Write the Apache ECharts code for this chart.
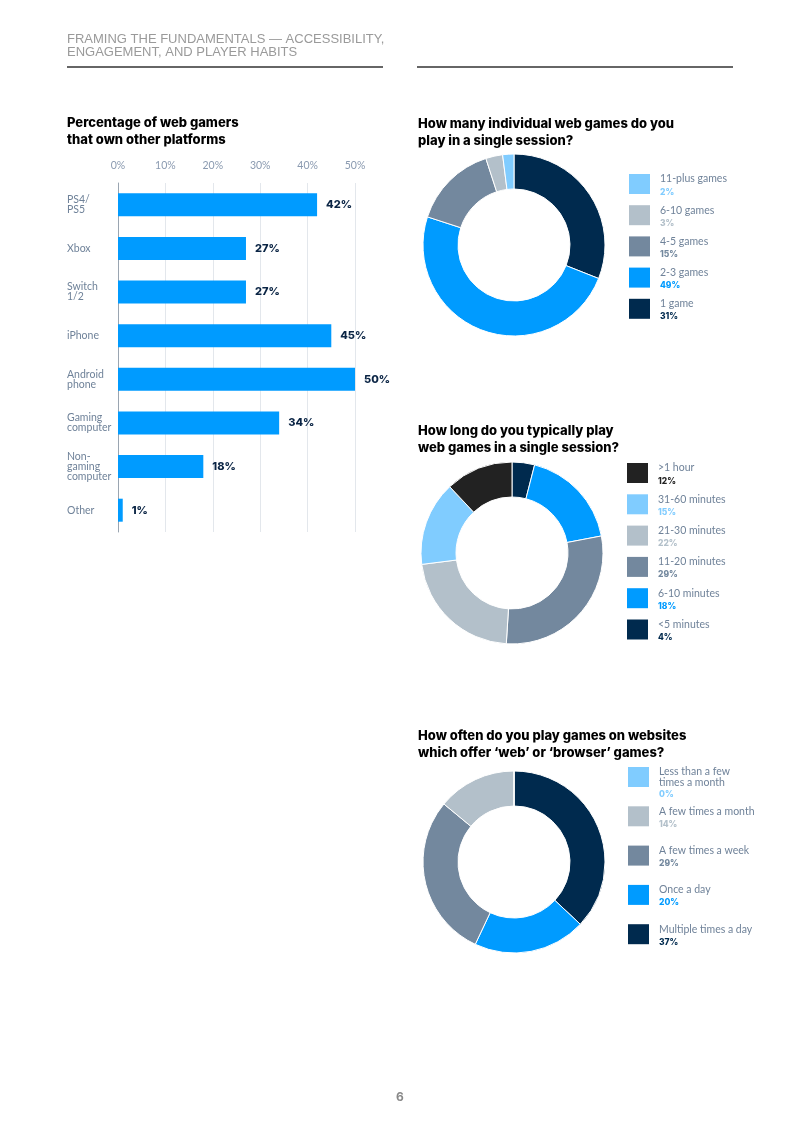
<!DOCTYPE html>
<html>
<head>
<meta charset="utf-8">
<script src="https://cdn.jsdelivr.net/npm/echarts@6/dist/echarts.min.js"></script>
<style>
html,body{margin:0;padding:0;background:#fff;}
#main{width:800px;height:1131px;}
</style>
</head>
<body>
<div id="main"></div>
<script>
// ---- data ----
const barCategories = ['PS4/\nPS5', 'Xbox', 'Switch\n1/2', 'iPhone', 'Android\nphone', 'Gaming\ncomputer', 'Non-\ngaming\ncomputer', 'Other'];
const barValues = [42, 27, 27, 45, 50, 34, 18, 1];
const barTicks = [0, 10, 20, 30, 40, 50];

const gamesNames = ['1 game', '2-3 games', '4-5 games', '6-10 games', '11-plus games'];
const gamesValues = [31, 49, 15, 3, 2];

const durationNames = ['<5 minutes', '6-10 minutes', '11-20 minutes', '21-30 minutes', '31-60 minutes', '>1 hour'];
const durationValues = [4, 18, 29, 22, 15, 12];

const freqNames = ['Multiple times a day', 'Once a day', 'A few times a week', 'A few times a month', 'Less than a few\ntimes a month'];
const freqValues = [37, 20, 29, 14, 0];

// ---- styles ----
const NAVY = '#002a4e', BLUE = '#009bff', SLATE = '#73889e', LGRAY = '#b3c0ca', LBLUE = '#80ccff', BLACK = '#222222';
const gamesColors = [NAVY, BLUE, SLATE, LGRAY, LBLUE];
const durationColors = [NAVY, BLUE, SLATE, LGRAY, LBLUE, BLACK];
const freqColors = [NAVY, BLUE, SLATE, LGRAY, LBLUE];
const LABEL_GRAY = '#6f8299';
const FONT = 'Lato, "Noto Sans", sans-serif';
const TFONT = 'Inter, "Open Sans", sans-serif';

function pieSeries(names, values, colors, center) {
  return {
    type: 'pie',
    center: center,
    radius: [56, 91],
    startAngle: 90,
    clockwise: true,
    label: { show: false },
    labelLine: { show: false },
    silent: true,
    itemStyle: { borderColor: '#fff', borderWidth: 1 },
    data: names.map((n, i) => ({ name: n, value: values[i], itemStyle: { color: colors[i] } }))
  };
}

function legendGraphics(names, values, colors, x, top, spacing) {
  const els = [];
  const order = names.map((n, i) => i).reverse();
  order.forEach((idx, k) => {
    const y = top + k * spacing;
    els.push({ type: 'rect', shape: { x: x, y: y, width: 21, height: 20 }, style: { fill: colors[idx] }, silent: true });
    const lines = names[idx].split('\n');
    lines.forEach((ln, j) => {
      els.push({ type: 'text', x: x + 31, y: y + 5 + j * 11, silent: true,
        style: { text: ln, fill: LABEL_GRAY, font: '10.5px ' + FONT, verticalAlign: 'middle' } });
    });
    const vy = y + 18 + (lines.length - 1) * 9;
    els.push({ type: 'text', x: x + 31, y: vy, silent: true,
      style: { text: values[idx] + '%', fill: colors[idx], font: '800 8.5px ' + TFONT, verticalAlign: 'middle' } });
  });
  return els;
}

const chart = echarts.init(document.getElementById('main'), null, { renderer: 'canvas' });

const titleStyle = { color: '#000', fontSize: 13, fontWeight: 800, fontFamily: TFONT, lineHeight: 17 };

const option = {
  backgroundColor: '#fff',
  animation: false,
  title: [
    { text: 'FRAMING THE FUNDAMENTALS — ACCESSIBILITY,\nENGAGEMENT, AND PLAYER HABITS', left: 67, top: 33,
      padding: 0, textStyle: { color: '#9a9a9a', fontSize: 13, fontWeight: 'normal', fontFamily: '"Liberation Sans", Arial, sans-serif', lineHeight: 13 } },
    { text: 'Percentage of web gamers\nthat own other platforms', left: 67, top: 115, padding: 0, textStyle: titleStyle },
    { text: 'How many individual web games do you\nplay in a single session?', left: 418, top: 116, padding: 0, textStyle: titleStyle },
    { text: 'How long do you typically play\nweb games in a single session?', left: 418, top: 423, padding: 0, textStyle: titleStyle },
    { text: 'How often do you play games on websites\nwhich offer ‘web’ or ‘browser’ games?', left: 418, top: 728, padding: 0, textStyle: titleStyle },
    { text: '6', left: 396, top: 1091, padding: 0, textStyle: { color: '#888', fontSize: 12, fontWeight: 'bold', fontFamily: TFONT } }
  ],
  grid: { left: 118, top: 183, width: 237, height: 349, containLabel: false },
  xAxis: {
    type: 'value', position: 'top', min: 0, max: 50, interval: 10,
    axisLine: { show: false }, axisTick: { show: false },
    axisLabel: { color: '#8a9ab0', fontSize: 10.5, fontFamily: FONT, margin: 12,
      formatter: v => (barTicks.indexOf(v) >= 0 ? v + '%' : '') },
    splitLine: { show: true, lineStyle: { color: '#e3e7ec', width: 1 } }
  },
  yAxis: {
    type: 'category', inverse: true, data: barCategories,
    axisLine: { show: true, lineStyle: { color: '#9aa5b1', width: 1 } },
    axisTick: { show: false },
    axisLabel: { align: 'left', margin: 51, color: LABEL_GRAY, fontSize: 10.5, fontFamily: FONT, lineHeight: 10 }
  },
  series: [
    {
      type: 'bar', data: barValues, barWidth: 23, silent: true,
      itemStyle: { color: BLUE },
      label: { show: true, position: 'right', distance: 9, formatter: p => p.value + '%',
        color: '#0b2545', fontSize: 11, fontWeight: 800, fontFamily: TFONT }
    },
    pieSeries(gamesNames, gamesValues, gamesColors, [514, 245]),
    pieSeries(durationNames, durationValues, durationColors, [512, 553]),
    pieSeries(freqNames, freqValues, freqColors, [514, 862])
  ],
  graphic: [
    { type: 'line', shape: { x1: 67, y1: 67, x2: 383, y2: 67 }, style: { stroke: '#333', lineWidth: 1.5 }, silent: true },
    { type: 'line', shape: { x1: 417, y1: 67, x2: 733, y2: 67 }, style: { stroke: '#333', lineWidth: 1.5 }, silent: true }
  ]
    .concat(legendGraphics(gamesNames, gamesValues, gamesColors, 629, 174, 31.2))
    .concat(legendGraphics(durationNames, durationValues, durationColors, 627, 463, 31.3))
    .concat(legendGraphics(freqNames, freqValues, freqColors, 628, 767, 39.3))
};

chart.setOption(option);
</script>
</body>
</html>
